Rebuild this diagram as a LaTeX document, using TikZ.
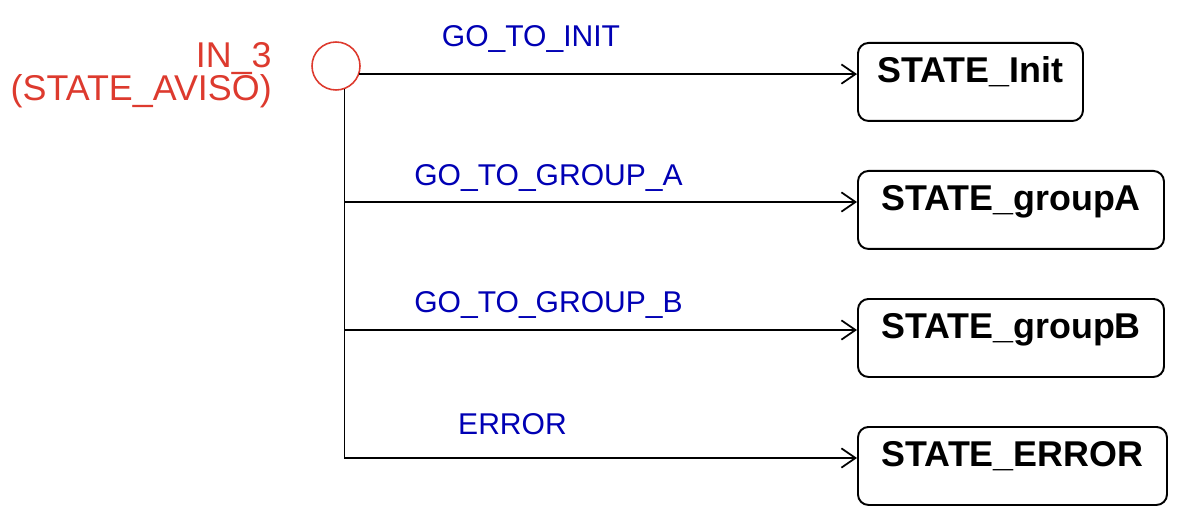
\documentclass[tikz,border=0pt]{standalone}
\usepackage{fontspec}
\setmainfont{Liberation Sans}
\definecolor{avisored}{RGB}{221,58,46}
\definecolor{eventblue}{RGB}{0,0,180}
\usetikzlibrary{shapes,arrows.meta,positioning,calc}

\tikzset{
    statebox/.style={draw, rounded corners=6pt, line width=1.1pt, anchor=north west,
        inner xsep=0pt, inner ysep=0pt, text height=0.8cm, text depth=0.76cm,
        font=\fontsize{20.4}{24}\selectfont\bfseries},
    evlabel/.style={eventblue, anchor=base, inner sep=0pt, font=\fontsize{17.1}{20}\selectfont},
    trans/.style={line width=1pt, -{Straight Barb[length=8pt,width=11pt]}}
}

\begin{document}
\begin{tikzpicture}
    \useasboundingbox (0,0) rectangle (23.68,10.36);

    % Initial pseudo state
    \node[circle, draw=avisored, line width=0.9pt, minimum size=0.96cm, inner sep=0pt] (in3) at (6.72,9.04) {};
    \node[avisored, anchor=base east, align=right, inner sep=0pt,
          font=\fontsize{20.4}{19}\selectfont] (in3lbl) at (5.44,8.35) {IN\_3\\(STATE\_AVISO)};

    % States
    \node[statebox, minimum width=4.5cm] (sInit) at (17.14,9.52) {STATE\_Init};
    \node[statebox, minimum width=6.12cm] (sGroupA) at (17.14,6.96) {STATE\_groupA};
    \node[statebox, minimum width=6.12cm] (sGroupB) at (17.14,4.40) {STATE\_groupB};
    \node[statebox, minimum width=6.18cm] (sError) at (17.14,1.84) {STATE\_ERROR};

    % Branch points on the trunk
    \coordinate (jA) at (6.88,6.32);
    \coordinate (jB) at (6.88,3.76);
    \coordinate (jE) at (6.88,1.20);

    % Transitions
    \draw[trans] (in3.-19) -- (in3.-19 -| sInit.west);
    \draw[line width=1pt] (in3.-70) -- (in3.-70 |- jE) -- (jE);
    \draw[trans] (jA) -- (jA -| sGroupA.west);
    \draw[trans] (jB) -- (jB -| sGroupB.west);
    \draw[trans] (jE) -- (jE -| sError.west);

    % Events
    \node[evlabel] (evInit) at (10.62,9.42) {GO\_TO\_INIT};
    \node[evlabel] (evA) at (10.97,6.64) {GO\_TO\_GROUP\_A};
    \node[evlabel] (evB) at (10.97,4.12) {GO\_TO\_GROUP\_B};
    \node[evlabel] (evErr) at (10.25,1.68) {ERROR};
\end{tikzpicture}
\end{document}
